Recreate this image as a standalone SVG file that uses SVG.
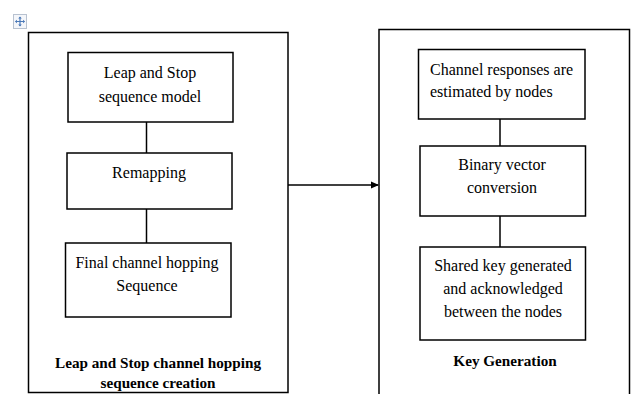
<svg xmlns="http://www.w3.org/2000/svg" width="631" height="394" viewBox="0 0 631 394">
<style>
.box{fill:#fff;stroke:#000;stroke-width:1.5}
.outer{fill:#fff;stroke:#000;stroke-width:1.5}
.t{font-family:"Liberation Serif",serif;font-size:16px;fill:#000;text-anchor:middle}
.b{font-weight:bold;font-size:15.2px}
.c{stroke:#000;stroke-width:1.5;fill:none}
</style>
<defs>
<marker id="ah" markerWidth="8" markerHeight="8" refX="7" refY="4" orient="auto" markerUnits="userSpaceOnUse">
<path d="M0,0.5 L8,4 L0,7.5 z" fill="#000"/>
</marker>
</defs>
<rect width="631" height="394" fill="#fff"/>
<g id="move-handle">
<rect x="13.5" y="14.5" width="13" height="14" fill="#f4f6fa" stroke="#b8c2d0" stroke-width="1"/>
<path d="M20,17 V26 M15.5,21.5 H24.5" stroke="#4a79b8" stroke-width="1.2" fill="none"/>
<path d="M20,16.5 l-1.8,2 h3.6z M20,26.5 l-1.8,-2 h3.6z M15,21.5 l2,-1.8 v3.6z M25,21.5 l-2,-1.8 v3.6z" fill="#4a79b8"/>
</g>
<g id="group-left">
<rect class="outer" x="28.5" y="32.5" width="259.5" height="360"/>
<text class="t b" x="158" y="368">Leap and Stop channel hopping</text>
<text class="t b" x="158" y="388">sequence creation</text>
</g>
<g id="group-right">
<rect class="outer" x="379" y="29.5" width="250.5" height="366"/>
<text class="t b" x="505" y="366">Key Generation</text>
</g>
<g id="connectors">
<line class="c" x1="146.5" y1="122" x2="146.5" y2="153"/>
<line class="c" x1="146.5" y1="209" x2="146.5" y2="243"/>
<line class="c" x1="500" y1="119" x2="500" y2="146"/>
<line class="c" x1="500" y1="216" x2="500" y2="247"/>
<line class="c" x1="288" y1="185" x2="378" y2="185" marker-end="url(#ah)"/>
</g>
<g id="n1">
<rect class="box" x="68" y="52.5" width="165" height="69.5"/>
<text class="t" x="150" y="78">Leap and Stop</text>
<text class="t" x="150" y="102">sequence model</text>
</g>
<g id="n2">
<rect class="box" x="67" y="153" width="165" height="56"/>
<text class="t" x="149" y="178">Remapping</text>
</g>
<g id="n3">
<rect class="box" x="65.5" y="243" width="165.5" height="74"/>
<text class="t" x="147" y="268">Final channel hopping</text>
<text class="t" x="147" y="291">Sequence</text>
</g>
<g id="r1">
<rect class="box" x="418.5" y="49.5" width="166.5" height="69.5"/>
<text class="t" x="430" y="75" style="text-anchor:start">Channel responses are</text>
<text class="t" x="430" y="97" style="text-anchor:start">estimated by nodes</text>
</g>
<g id="r2">
<rect class="box" x="420" y="146" width="165.5" height="70"/>
<text class="t" x="502" y="170">Binary vector</text>
<text class="t" x="502" y="193">conversion</text>
</g>
<g id="r3">
<rect class="box" x="420" y="247" width="165.5" height="93"/>
<text class="t" x="503" y="271">Shared key generated</text>
<text class="t" x="503" y="294">and acknowledged</text>
<text class="t" x="503" y="317">between the nodes</text>
</g>
</svg>
